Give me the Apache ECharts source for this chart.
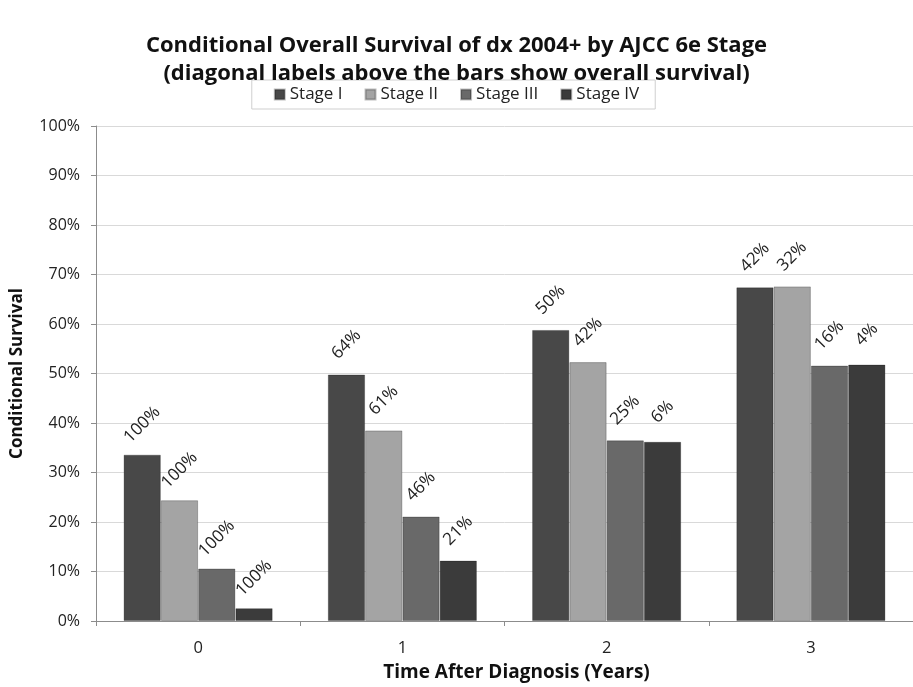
<!DOCTYPE html>
<html>
<head>
<meta charset="utf-8">
<script src="https://cdn.jsdelivr.net/npm/echarts@6/dist/echarts.min.js"></script>
<style>
  html, body { margin: 0; padding: 0; background: #fff; }
  #chart { width: 913px; height: 687px; }
</style>
</head>
<body>
<div id="chart"></div>
<script>
// Years after diagnosis
const categories = ['0', '1', '2', '3'];
const stageNames = ['Stage I', 'Stage II', 'Stage III', 'Stage IV'];

// Conditional survival (%) — bar heights
const stageI   = [33.6, 49.8, 58.8, 67.4];
const stageII  = [24.4, 38.5, 52.3, 67.6];
const stageIII = [10.6, 21.1, 36.5, 51.6];
const stageIV  = [2.6, 12.2, 36.2, 51.8];

// Overall survival (%) — diagonal labels above the bars
const overallI   = [100, 64, 50, 42];
const overallII  = [100, 61, 42, 32];
const overallIII = [100, 46, 25, 16];
const overallIV  = [100, 21, 6, 4];

const yTicks = [0, 10, 20, 30, 40, 50, 60, 70, 80, 90, 100];

const colors = ['#484848', '#a4a4a4', '#696969', '#3b3b3b'];
const values = [stageI, stageII, stageIII, stageIV];
const overall = [overallI, overallII, overallIII, overallIV];
const FONT = '"Open Sans", "Noto Sans", sans-serif';

const chart = echarts.init(document.getElementById('chart'), null, { renderer: 'canvas' });

const series = stageNames.map((name, s) => ({
  name,
  type: 'bar',
  barGap: '0%',
  barCategoryGap: '27%',
  itemStyle: { color: colors[s], borderColor: 'rgba(0,0,0,0.25)', borderWidth: 1 },
  label: {
    show: true,
    position: 'top',
    distance: 30,
    rotate: 45,
    align: 'center',
    verticalAlign: 'middle',
    fontFamily: FONT,
    fontSize: 17,
    color: '#222',
    formatter: (p) => overall[s][p.dataIndex] + '%'
  },
  data: values[s]
}));

chart.setOption({
  animation: false,
  backgroundColor: '#fff',
  title: {
    text: 'Conditional Overall Survival of dx 2004+ by AJCC 6e Stage\n(diagonal labels above the bars show overall survival)',
    left: 'center',
    top: 27,
    textStyle: { fontFamily: FONT, fontSize: 22, fontWeight: 'bold', color: '#111', lineHeight: 28 }
  },
  legend: {
    data: stageNames,
    top: 80,
    left: 'center',
    itemWidth: 10,
    itemHeight: 10,
    itemGap: 22,
    padding: [6, 16, 6, 22],
    borderColor: '#cfcfcf',
    borderWidth: 1,
    icon: 'rect',
    textStyle: { fontFamily: FONT, fontSize: 17, color: '#222' }
  },
  grid: { left: 96, top: 126, width: 821, bottom: 63, containLabel: false },
  xAxis: {
    type: 'category',
    data: categories,
    name: 'Time After Diagnosis (Years)',
    nameLocation: 'middle',
    nameGap: 42,
    nameTextStyle: { fontFamily: FONT, fontSize: 19, fontWeight: 'bold', color: '#111', padding: [0, 0, 0, 24] },
    axisLine: { lineStyle: { color: '#8c8c8c', width: 1 } },
    axisTick: { show: true, alignWithLabel: false, length: 5, lineStyle: { color: '#8c8c8c' } },
    axisLabel: { margin: 19, fontFamily: FONT, fontSize: 16.5, color: '#222' }
  },
  yAxis: {
    type: 'value',
    min: yTicks[0],
    max: yTicks[yTicks.length - 1],
    interval: yTicks[1] - yTicks[0],
    name: 'Conditional Survival',
    nameLocation: 'middle',
    nameRotate: 90,
    nameGap: 70,
    nameTextStyle: { fontFamily: FONT, fontSize: 17, fontWeight: 'bold', color: '#111' },
    axisLine: { show: true, lineStyle: { color: '#8c8c8c', width: 1 } },
    axisTick: { show: true, length: 5, lineStyle: { color: '#8c8c8c' } },
    axisLabel: { margin: 16, fontFamily: FONT, fontSize: 16, color: '#222', formatter: '{value}%' },
    splitLine: { lineStyle: { color: '#d9d9d9', width: 1 } }
  },
  series
});
</script>
</body>
</html>
